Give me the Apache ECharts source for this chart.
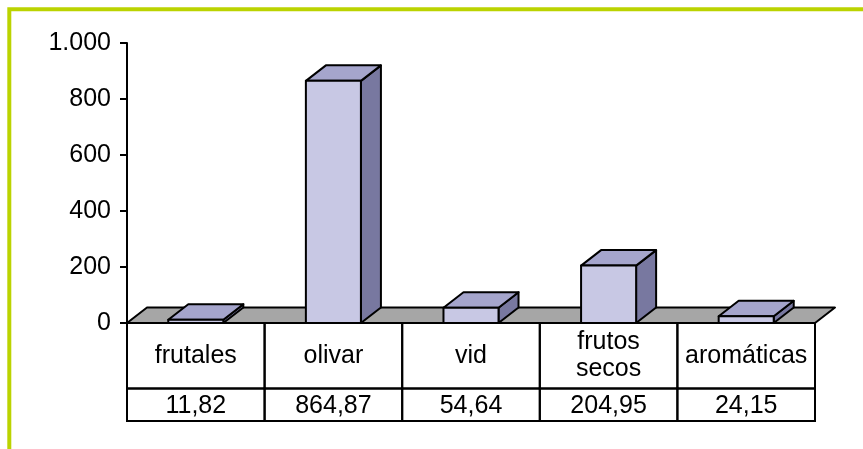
<!DOCTYPE html>
<html>
<head>
<meta charset="utf-8">
<script src="https://cdn.jsdelivr.net/npm/echarts@6/dist/echarts.min.js"></script>
<style>
html,body{margin:0;padding:0;background:#fff;}
#chart{width:863px;height:449px;}
</style>
</head>
<body>
<div id="chart"></div>
<script>
const categories = ['frutales', 'olivar', 'vid', 'frutos secos', 'aromáticas'];
const values = [11.82, 864.87, 54.64, 204.95, 24.15];
const yTicks = [0, 200, 400, 600, 800, 1000];
const yTickLabels = ['0', '200', '400', '600', '800', '1.000'];

const FONT = 'Arial, "Liberation Sans", sans-serif';
const FS = 25;
const DX = 20, DY = -15.5;
const FRONT = '#C8C8E4', TOP = '#A5A5CC', SIDE = '#7878A0', FLOOR = '#A6A6A6';

const chart = echarts.init(document.getElementById('chart'));

function fmtVal(v) { return v.toFixed(2).replace('.', ','); }

chart.setOption({
  animation: false,
  backgroundColor: '#fff',
  graphic: [{
    type: 'rect',
    shape: { x: 9.3, y: 9.3, width: 900, height: 500 },
    style: { fill: 'none', stroke: '#BBD300', lineWidth: 4 },
    z: 100
  }],
  grid: { left: 127, top: 43, width: 688, height: 280 },
  xAxis: {
    type: 'category',
    data: categories,
    axisLine: { show: false },
    axisTick: { show: false },
    axisLabel: { show: false },
    splitLine: { show: false }
  },
  yAxis: {
    type: 'value',
    min: 0, max: 1000, interval: 200,
    axisLine: { show: true, lineStyle: { color: '#000', width: 2 } },
    axisTick: { show: true, length: 7, lineStyle: { color: '#000', width: 2 } },
    splitLine: { show: false },
    axisLabel: {
      margin: 16,
      color: '#000',
      fontSize: FS,
      fontFamily: FONT,
      formatter: function (v) {
        const i = yTicks.indexOf(v);
        return i >= 0 ? yTickLabels[i] : '';
      }
    }
  },
  series: [
    {
      type: 'custom',
      z: 1,
      data: [[0, 0]],
      silent: true,
      renderItem: function (params, api) {
        const cs = params.coordSys;
        const yb = cs.y + cs.height;
        return {
          type: 'polygon',
          shape: { points: [[cs.x, yb], [cs.x + cs.width, yb], [cs.x + cs.width + DX, yb + DY], [cs.x + DX, yb + DY]] },
          style: { fill: FLOOR, stroke: '#000', lineWidth: 2, lineJoin: 'round' }
        };
      }
    },
    {
      type: 'custom',
      z: 2,
      data: values.map((v, i) => [i, v]),
      encode: { x: 0, y: 1 },
      renderItem: function (params, api) {
        const i = api.value(0), v = api.value(1);
        const base = api.coord([i, 0]);
        const top = api.coord([i, v]);
        const bw = api.size([1, 0])[0] * 0.4;
        const x0 = base[0] - bw / 2, x1 = base[0] + bw / 2;
        const y0 = base[1], y1 = top[1];
        const st = (f) => ({ fill: f, stroke: '#000', lineWidth: 2, lineJoin: 'round' });
        return {
          type: 'group',
          children: [
            { type: 'polygon', shape: { points: [[x1, y0], [x1, y1], [x1 + DX, y1 + DY], [x1 + DX, y0 + DY]] }, style: st(SIDE) },
            { type: 'polygon', shape: { points: [[x0, y1], [x1, y1], [x1 + DX, y1 + DY], [x0 + DX, y1 + DY]] }, style: st(TOP) },
            { type: 'rect', shape: { x: x0, y: y1, width: bw, height: y0 - y1 }, style: st(FRONT) }
          ]
        };
      }
    },
    {
      type: 'custom',
      z: 3,
      silent: true,
      data: values.map((v, i) => [i, v]),
      encode: { x: 0, y: 1 },
      renderItem: function (params, api) {
        const i = api.value(0), v = api.value(1);
        const base = api.coord([i, 0]);
        const w = api.size([1, 0])[0];
        const xl = base[0] - w / 2;
        const yt = base[1];
        const h1 = 65.6, h2 = 32.4;
        const cell = { fill: 'none', stroke: '#000', lineWidth: 2 };
        return {
          type: 'group',
          children: [
            { type: 'rect', shape: { x: xl, y: yt, width: w, height: h1 }, style: cell },
            { type: 'rect', shape: { x: xl, y: yt + h1, width: w, height: h2 }, style: cell },
            { type: 'text', x: base[0], y: yt + h1 / 2, style: {
                text: categories[i].replace(' ', '\n'), fill: '#000', fontSize: FS, fontFamily: FONT,
                align: 'center', verticalAlign: 'middle', lineHeight: 27 } },
            { type: 'text', x: base[0], y: yt + h1 + h2 / 2 + 1, style: {
                text: fmtVal(v), fill: '#000', fontSize: FS, fontFamily: FONT,
                align: 'center', verticalAlign: 'middle' } }
          ]
        };
      }
    }
  ]
});
</script>
</body>
</html>
